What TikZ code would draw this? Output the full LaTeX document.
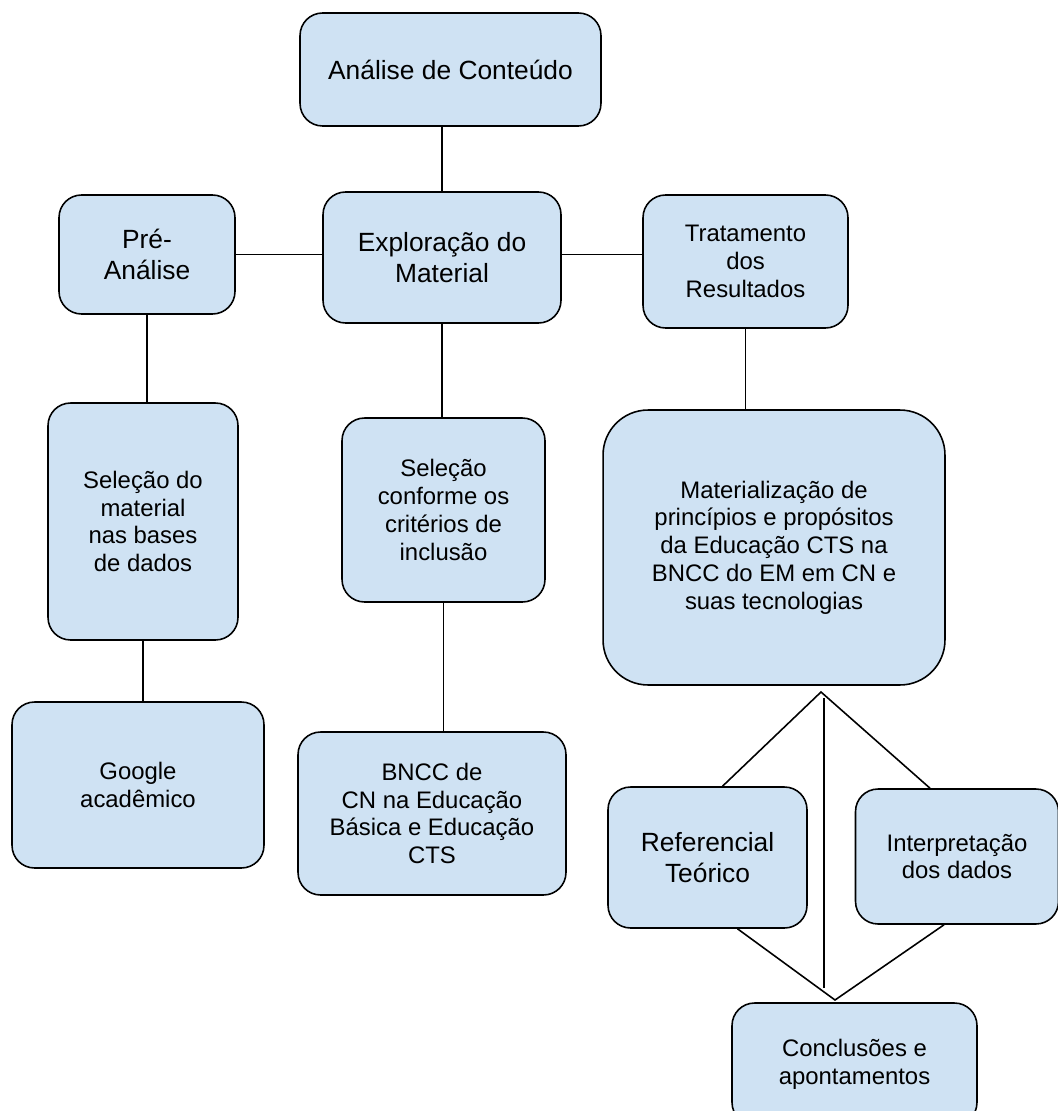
\documentclass[tikz,border=0pt]{standalone}
\usepackage{fontspec}
\setmainfont{Liberation Sans}
\definecolor{boxblue}{HTML}{CFE2F3}
\begin{document}
\begin{tikzpicture}[x=0.02cm, y=-0.02cm, line width=0.9pt,
    etapa/.style={draw, fill=boxblue, rounded corners=0.45cm, align=center, inner sep=2pt},
    grande/.style={etapa, font=\fontsize{15}{17.2}\selectfont},
    pequeno/.style={etapa, font=\fontsize{13.6}{15.8}\selectfont}]
    \useasboundingbox (0,0) rectangle (1057,1111);
    \node[grande, minimum width=6.02cm, minimum height=2.26cm] (ana) at (450.5,69.5) {Análise de Conteúdo};
    \node[grande, minimum width=3.52cm, minimum height=2.38cm] (pre) at (147,254.5) {Pré-\\Análise};
    \node[grande, minimum width=4.76cm, minimum height=2.62cm] (exp) at (442,257.5) {Exploração do\\Material};
    \node[pequeno, minimum width=4.10cm, minimum height=2.66cm] (trat) at (745.5,261.5) {Tratamento\\dos\\Resultados};
    \node[pequeno, minimum width=3.80cm, minimum height=4.74cm] (selm) at (143,521.5) {Seleção do\\material\\nas bases\\de dados};
    \node[pequeno, minimum width=4.06cm, minimum height=3.68cm] (selc) at (443.5,510) {Seleção\\conforme os\\critérios de\\inclusão};
    \node[pequeno, minimum width=6.84cm, minimum height=5.50cm, rounded corners=0.9cm] (mat) at (774,547.5) {Materialização de\\princípios e propósitos\\da Educação CTS na\\BNCC do EM em CN e\\suas tecnologias};
    \node[pequeno, minimum width=5.04cm, minimum height=3.32cm] (goo) at (138,785) {Google\\acadêmico};
    \node[pequeno, minimum width=5.36cm, minimum height=3.26cm] (bncc) at (432,813.5) {BNCC de\\CN na Educação\\Básica e Educação\\CTS};
    \node[grande, minimum width=3.98cm, minimum height=2.82cm] (ref) at (707.5,857.5) {Referencial\\Teórico};
    \node[pequeno, minimum width=4.06cm, minimum height=2.70cm] (int) at (957,856.5) {Interpretação\\dos dados};
    \node[pequeno, minimum width=4.90cm, minimum height=2.44cm] (conc) at (854.5,1064) {Conclusões e\\apontamentos};
    % ligações
    \draw (exp.north) -- (exp.north |- ana.south);
    \draw (pre.east) -- (pre.east -| exp.west);
    \draw (exp.east |- pre.east) -- (trat.west |- pre.east);
    \draw (pre.south) -- (pre.south |- selm.north);
    \draw (exp.south) -- (exp.south |- selc.north);
    \draw (trat.south) -- (trat.south |- mat.north);
    \draw (selm.south) -- (selm.south |- goo.north);
    \draw (selc.south) -- (selc.south |- bncc.north);
    \coordinate (topo) at (821,692);
    \coordinate (base) at (835,1000);
    \draw ([xshift=0.3cm]ref.north) -- (topo) -- ([xshift=-0.54cm]int.north);
    \draw ([yshift=-0.12cm]topo -| 824,0) -- ([yshift=0.24cm]base -| 824,0);
    \draw ([xshift=0.6cm]ref.south) -- (base) -- ([xshift=-0.26cm]int.south);
\end{tikzpicture}
\end{document}
